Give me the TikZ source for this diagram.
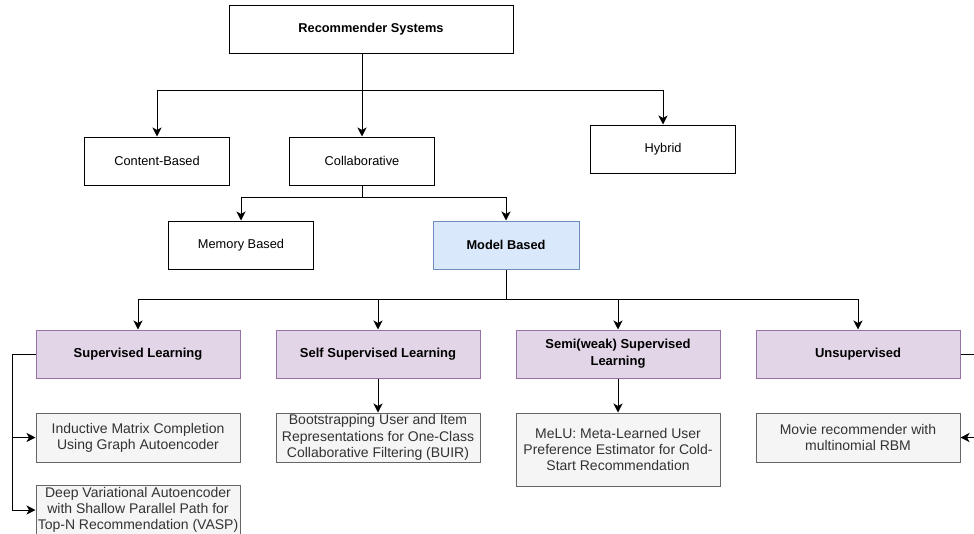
\documentclass[tikz,border=0pt]{standalone}
\usepackage{fontspec}
\setmainfont{Liberation Sans}
\usetikzlibrary{arrows.meta}
\definecolor{blueF}{HTML}{DAE8FC}
\definecolor{blueD}{HTML}{6C8EBF}
\definecolor{purF}{HTML}{E1D5E7}
\definecolor{purD}{HTML}{9673A6}
\definecolor{greyF}{HTML}{F5F5F5}
\definecolor{greyD}{HTML}{666666}
\definecolor{greyT}{HTML}{333333}
\begin{document}
\begin{tikzpicture}[x=1pt,y=-1pt,
  box/.style={draw=black,line width=1pt,fill=white,minimum width=145pt,minimum height=48pt,inner sep=0pt,align=center,font=\fontsize{12.8}{15}\selectfont},
  bluebox/.style={box,fill=blueF,draw=blueD,font=\fontsize{12.8}{15}\selectfont\bfseries},
  purbox/.style={box,fill=purF,draw=purD,minimum width=204pt,font=\fontsize{13}{17}\selectfont\bfseries},
  greybox/.style={box,fill=greyF,draw=greyD,text=greyT,minimum width=204pt,minimum height=49pt,font=\fontsize{14}{16.2}\selectfont},
  conn/.style={line width=1pt,draw=black},
  arr/.style={conn,-{Stealth[length=9pt,width=9pt,inset=2.5pt]}}]
\useasboundingbox (0,0) rectangle (974,533);
\fill[white] (0,0) rectangle (974,533);
\node[box,minimum width=284pt,font=\fontsize{12.8}{15}\selectfont\bfseries] (rs) at (371,29) {Recommender Systems};
\node[box] (cb) at (157,161) {Content-Based};
\node[box] (co) at (362,161) {Collaborative};
\node[box] (hy) at (663,149) {Hybrid};
\node[box] (mem) at (241,245) {Memory Based};
\node[bluebox,minimum width=146pt] (mod) at (506,245) {Model Based};
\node[purbox] (sup) at (138,354) {Supervised Learning};
\node[purbox] (self) at (378,354) {Self Supervised Learning};
\node[purbox] (semi) at (618,354) {Semi(weak) Supervised\\Learning};
\node[purbox] (uns) at (858,354) {Unsupervised};
\node[greybox] (imc) at (138,437.5) {Inductive Matrix Completion\\Using Graph Autoencoder};
\node[greybox] (vasp) at (138,510) {Deep Variational Autoencoder\\with Shallow Parallel Path for\\Top-N Recommendation (VASP)};
\node[greybox] (buir) at (378,437.5) {Bootstrapping User and Item\\Representations for One-Class\\Collaborative Filtering (BUIR)};
\node[greybox,minimum height=73pt] (melu) at (618,449.5) {MeLU: Meta-Learned User\\Preference Estimator for Cold-\\Start Recommendation};
\node[greybox] (movie) at (858,437.5) {Movie recommender with\\multinomial RBM};
\coordinate (j1) at (362,90);
\coordinate (j2) at (362,197);
\coordinate (j3) at (506,299);
% level 1
\draw[conn] (rs.south -| j1) -- (j1);
\draw[arr] (j1) -- (co.north);
\draw[arr] (j1) -| (cb.north);
\draw[arr] (j1) -| (hy.north);
% level 2
\draw[conn] (co.south) -- (j2);
\draw[arr] (j2) -| (mem.north);
\draw[arr] (j2) -| (mod.north);
% level 3
\draw[conn] (mod.south) -- (j3);
\draw[arr] (j3) -| (sup.north);
\draw[arr] (j3) -| (self.north);
\draw[arr] (j3) -| (semi.north);
\draw[arr] (j3) -| (uns.north);
% level 4
\coordinate (sl) at (12,354);
\draw[arr] (sup.west) -- (sl) |- (imc.west);
\draw[arr] (sl) |- (vasp.west);
\draw[arr] (self.south) -- (buir.north);
\draw[arr] (semi.south) -- (melu.north);
\coordinate (ur) at (980,354);
\draw[arr] (uns.east) -- (ur) |- (movie.east);
\end{tikzpicture}
\end{document}
